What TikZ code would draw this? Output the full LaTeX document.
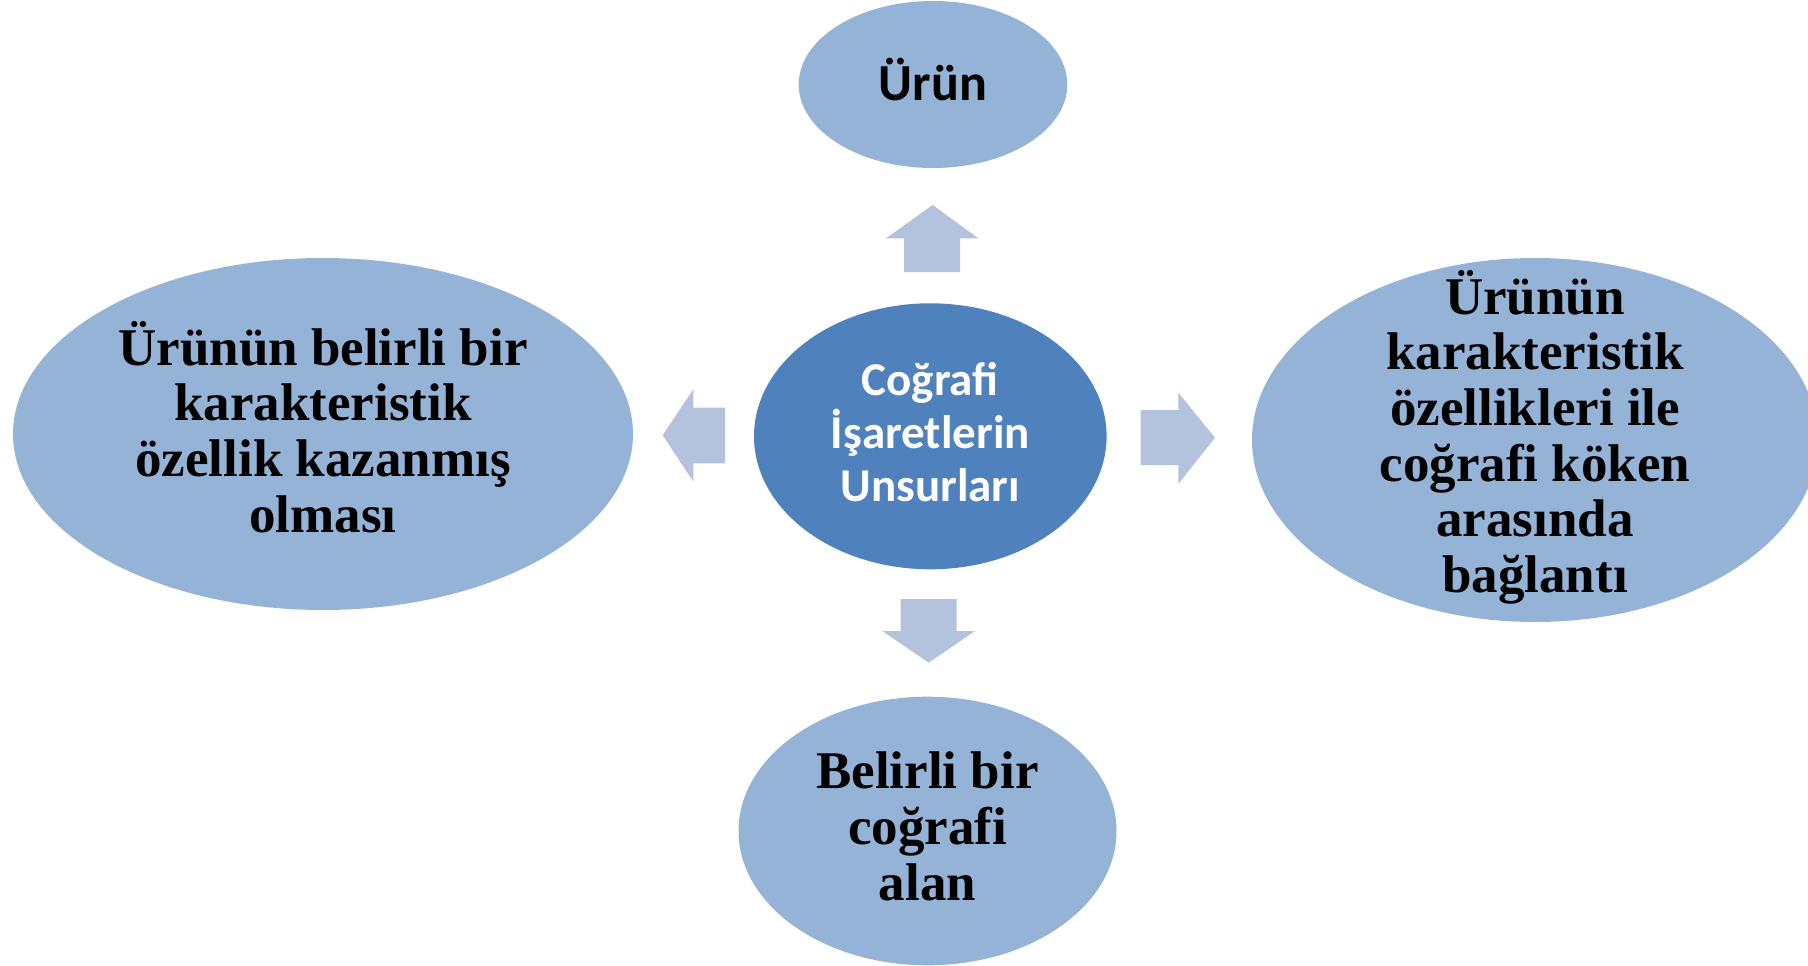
\documentclass[tikz,border=0pt]{standalone}
\usepackage{fontspec}
\setmainfont{Liberation Serif}
\newfontfamily\calibri{Carlito}
\usetikzlibrary{shapes.geometric}
\definecolor{bubblefill}{HTML}{95B3D7}
\definecolor{hubfill}{HTML}{4F81BD}
\definecolor{arrowfill}{HTML}{B3C2DD}

\begin{document}
\begin{tikzpicture}
    [x=1pt,y=-1pt,
     bubble/.style={ellipse,fill=bubblefill,inner sep=0pt},
     bubtext/.style={align=center,font=\fontsize{53}{55.6}\selectfont\bfseries},
     blockarrow/.style={fill=arrowfill}]
    \useasboundingbox (0,0) rectangle (1808,966);

    \node[bubble,fill=hubfill,minimum width=352.6pt,minimum height=266pt] (hub) at (930.3,436.3) {};
    \node[bubble,minimum width=268.6pt,minimum height=167pt] (urun) at (933,84.5) {};
    \node[bubble,minimum width=620pt,minimum height=352pt] (ozellik) at (323,434) {};
    \node[bubble,minimum width=566pt,minimum height=364pt] (baglanti) at (1535,440) {};
    \node[bubble,minimum width=378pt,minimum height=268.6pt] (alan) at (927.5,831) {};

    \node[align=center,text=white,font=\fontsize{47}{53}\selectfont\calibri\bfseries,yshift=4pt] (hubtext) at (hub) {Coğrafi\\İşaretlerin\\Unsurları};
    \node[font=\fontsize{52}{60}\selectfont\calibri\bfseries,yshift=5pt] (uruntext) at (urun) {Ürün};
    \node[bubtext,yshift=7pt] (ozelliktext) at (ozellik) {Ürünün belirli bir\\karakteristik\\özellik kazanmış\\olması};
    \node[bubtext,yshift=3pt] (baglantitext) at (baglanti) {Ürünün\\karakteristik\\özellikleri ile\\coğrafi köken\\arasında\\bağlantı};
    \node[bubtext,yshift=4.6pt] (alantext) at (alan) {Belirli bir\\coğrafi\\alan};

    \fill[blockarrow] (904,272) -- (904,238.3) -- (886,238.3) -- (932.7,205) -- (978.3,238.3) -- (960,238.3) -- (960,272) -- cycle;
    \fill[blockarrow] (900.7,599) -- (956.7,599) -- (956.7,631) -- (975,631) -- (928.7,662.7) -- (882.3,631) -- (900.7,631) -- cycle;
    \fill[blockarrow] (725,407.7) -- (693.3,407.7) -- (693.3,389.3) -- (662.7,435.3) -- (693.3,481.7) -- (693.3,463.3) -- (725,463.3) -- cycle;
    \fill[blockarrow] (1140.7,410) -- (1178.3,410) -- (1178.3,392.7) -- (1215,437.7) -- (1178.3,484) -- (1178.3,465) -- (1140.7,465) -- cycle;
\end{tikzpicture}
\end{document}
